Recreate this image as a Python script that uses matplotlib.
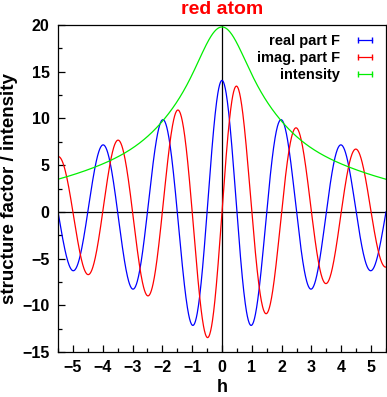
import numpy as np
import matplotlib
matplotlib.use('Agg')
import matplotlib.pyplot as plt
from matplotlib.lines import Line2D
from matplotlib.ticker import MultipleLocator

plt.rcParams['font.family'] = ['Liberation Sans', 'DejaVu Sans']

# atomic form factor envelope
h_peak = [0.0, 0.5, 1.0, 1.5, 2.0, 2.5, 3.0, 3.5, 4.0, 4.5, 5.0, 5.5]
f_peak = [14.0, 13.5, 12.2, 10.9, 9.7, 8.9, 8.3, 7.8, 7.2, 6.7, 6.3, 5.85]
atom_x = 0.5          # fractional position of the atom
intensity_scale = 10.0

# smooth envelope: least-squares fit of a few gaussians through the read peaks
widths = [1.2, 0.25, 0.04, 0.005]
hp = np.array(h_peak)
A = np.column_stack([np.exp(-b * hp ** 2) for b in widths])
coef = np.linalg.lstsq(A, np.array(f_peak), rcond=None)[0]

h = np.linspace(-5.5, 5.5, 1101)
f = sum(c * np.exp(-b * h ** 2) for c, b in zip(coef, widths))
real_F = f * np.cos(2 * np.pi * h * atom_x)
imag_F = f * np.sin(2 * np.pi * h * atom_x)
intens = f ** 2 / intensity_scale

fig = plt.figure(figsize=(3.87, 3.97), dpi=100)
ax = fig.add_axes([58 / 387, 1 - 352 / 397, 328 / 387, 327 / 397])

ax.axhline(0, color='black', lw=0.9)
ax.axvline(0, color='black', lw=0.9)
ax.plot(h, real_F, color='#0000ff', lw=0.9)
ax.plot(h, imag_F, color='#ff0000', lw=0.9)
ax.plot(h, intens, color='#00ee00', lw=0.9)

ax.set_xlim(-5.5, 5.5)
ax.set_ylim(-15, 20)
ax.xaxis.set_major_locator(MultipleLocator(1))
ax.xaxis.set_minor_locator(MultipleLocator(0.5))
ax.yaxis.set_major_locator(MultipleLocator(5))
ax.yaxis.set_minor_locator(MultipleLocator(2.5))
ax.tick_params(which='both', direction='in', top=False, right=False)
ax.tick_params(which='major', length=5, width=0.9, labelsize=11.5, pad=6)
ax.tick_params(which='minor', length=3, width=0.9)
for lab in ax.get_xticklabels() + ax.get_yticklabels():
    lab.set_fontweight('bold')
for s in ax.spines.values():
    s.set_linewidth(0.9)

ax.set_xlabel('h', fontsize=13, fontweight='bold', labelpad=3)
ax.set_ylabel('structure factor / intensity', fontsize=13.5, fontweight='bold', labelpad=3)
ax.set_title('red atom', color='#ff0000', fontsize=14, fontweight='bold', pad=8)

handles = [Line2D([], [], color='#0000ff', lw=0.9, marker='|', ms=5),
           Line2D([], [], color='#ff0000', lw=0.9, marker='|', ms=5),
           Line2D([], [], color='#00ee00', lw=0.9, marker='|', ms=5)]
labels = ['real part F', 'imag. part F', 'intensity']
leg = ax.legend(handles, labels, loc='upper right', frameon=False, markerfirst=False,
                numpoints=2, handlelength=1.6, handletextpad=0.9, labelspacing=0.18,
                borderaxespad=0.35, borderpad=0.3, prop={'size': 10.5, 'weight': 'bold'})

fig.savefig('out.png', dpi=100)
